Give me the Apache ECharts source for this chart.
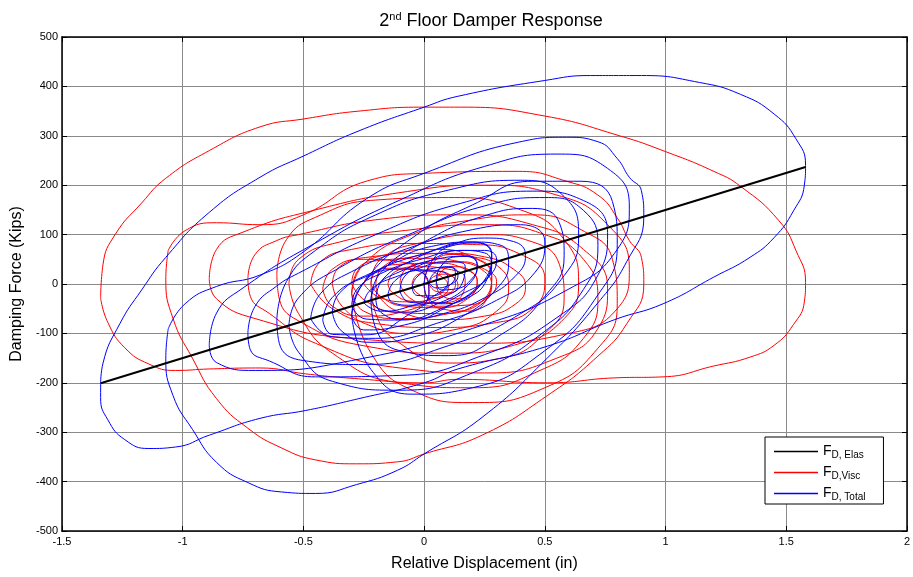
<!DOCTYPE html>
<html>
<head>
<meta charset="utf-8">
<title>2nd Floor Damper Response</title>
<script src="https://cdn.jsdelivr.net/npm/echarts@6/dist/echarts.min.js"></script>
<style>
  html, body { margin: 0; padding: 0; background: #ffffff; }
  #chart { width: 913px; height: 577px; }
</style>
</head>
<body>
<div id="chart"></div>
<script>
// Axis ranges and ticks
const xRange = [-1.5, 2];
const xStep = 0.5;
const yRange = [-500, 500];
const yStep = 100;

// Elastic damper force: straight line between the two displacement extremes
const elasticLine = [[-1.34, -201], [0, 0], [1.58, 237]];

// Viscous damper force loops (displacement in, force kips)
const viscousLoops = [
  [[-1.34,-29],[-1.33,40],[-1.28,100],[-1.17,164],[-1.07,214],[-0.89,270],[-0.68,318],[-0.5,334],[-0.27,350],[0,358],[0.15,358],[0.5,340],[0.81,300],[1.0,268],[1.2,228],[1.31,198],[1.47,128],[1.54,68],[1.58,3],[1.575,-36],[1.53,-82],[1.45,-124],[1.35,-148],[1.2,-166],[0.99,-188],[0.79,-190],[0.51,-200],[0.14,-193],[0,-200],[-0.27,-192],[-0.49,-182],[-0.68,-170],[-0.89,-172],[-1.03,-175],[-1.14,-162],[-1.24,-129],[-1.31,-78],[-1.34,-29]],
  [[-1.06,68],[-0.99,108],[-0.86,124],[-0.68,120],[-0.5,140],[-0.24,208],[0,224],[0.39,228],[0.59,208],[0.72,180],[0.8,134],[0.85,88],[0.9,54],[0.91,0],[0.84,-80],[0.72,-146],[0.51,-226],[0.24,-306],[0,-344],[-0.11,-360],[-0.28,-364],[-0.45,-356],[-0.59,-332],[-0.73,-292],[-0.86,-232],[-0.96,-150],[-1.04,-70],[-1.07,10],[-1.06,68]],
  [[-0.89,10],[-0.86,70],[-0.75,105],[-0.45,150],[-0.1,185],[0.25,200],[0.55,180],[0.76,120],[0.85,30],[0.8,-50],[0.6,-100],[0.2,-120],[-0.3,-110],[-0.7,-70],[-0.86,-30],[-0.89,10]],
  [[-0.73,10],[-0.7,60],[-0.61,88],[-0.52,100],[-0.2,130],[0.15,140],[0.45,120],[0.66,70],[0.76,-10],[0.72,-90],[0.55,-150],[0.25,-180],[-0.1,-170],[-0.45,-120],[-0.64,-60],[-0.72,-25],[-0.73,10]],
  [[-0.61,20],[-0.57,90],[-0.45,135],[-0.2,170],[0.1,175],[0.4,150],[0.58,90],[0.64,0],[0.58,-70],[0.4,-120],[0.1,-140],[-0.25,-125],[-0.5,-80],[-0.6,-30],[-0.61,20]],
  [[-0.56,0],[-0.52,50],[-0.35,85],[-0.05,110],[0.25,120],[0.5,100],[0.66,50],[0.72,-30],[0.66,-110],[0.48,-175],[0.2,-210],[-0.1,-200],[-0.38,-140],[-0.52,-60],[-0.56,0]],
  [[-0.47,0],[-0.43,45],[-0.3,70],[-0.05,82],[0.2,80],[0.4,60],[0.5,10],[0.46,-45],[0.3,-78],[0.05,-88],[-0.2,-80],[-0.38,-50],[-0.47,0]],
  [[-0.38,0],[-0.35,35],[-0.22,55],[0,62],[0.2,55],[0.32,30],[0.35,-10],[0.3,-55],[0.15,-90],[-0.05,-100],[-0.22,-85],[-0.34,-45],[-0.38,0]],
  [[-0.3,-20],[-0.25,40],[-0.05,100],[0.2,130],[0.45,140],[0.65,110],[0.78,50],[0.8,-40],[0.72,-130],[0.5,-210],[0.2,-240],[-0.05,-215],[-0.22,-140],[-0.3,-20]],
  [[-0.22,0],[-0.18,50],[0,85],[0.25,100],[0.45,85],[0.56,40],[0.58,-30],[0.5,-100],[0.32,-150],[0.1,-160],[-0.1,-120],[-0.2,-60],[-0.22,0]],
  [[-0.3,0],[-0.28,30],[-0.18,48],[0,52],[0.15,45],[0.25,25],[0.28,-5],[0.22,-40],[0.08,-60],[-0.1,-58],[-0.24,-35],[-0.3,0]],
  [[-0.22,0],[-0.2,25],[-0.1,40],[0.05,42],[0.17,30],[0.22,5],[0.18,-30],[0.06,-48],[-0.08,-45],[-0.18,-25],[-0.22,0]],
  [[-0.15,0],[-0.12,25],[-0.02,35],[0.1,30],[0.17,10],[0.16,-20],[0.07,-38],[-0.05,-35],[-0.13,-18],[-0.15,0]],
  [[-0.05,0],[-0.03,18],[0.04,26],[0.11,18],[0.13,0],[0.1,-20],[0.03,-28],[-0.03,-18],[-0.05,0]],
  [[0.02,0],[0.04,15],[0.09,20],[0.13,10],[0.14,-5],[0.1,-18],[0.05,-15],[0.02,0]],
  [[0,0],[0.03,40],[0.12,60],[0.22,50],[0.28,15],[0.26,-30],[0.18,-55],[0.07,-50],[0.01,-25],[0,0]],
  [[-0.42,-10],[-0.38,30],[-0.25,50],[-0.1,45],[0,20],[0.02,-20],[-0.08,-55],[-0.25,-65],[-0.38,-45],[-0.42,-10]],
  [[-0.3,-20],[-0.27,30],[-0.15,60],[0.05,70],[0.2,55],[0.28,20],[0.25,-30],[0.1,-60],[-0.1,-70],[-0.25,-55],[-0.3,-20]],
  [[-0.2,0],[-0.17,35],[-0.05,55],[0.1,62],[0.25,55],[0.37,30],[0.42,-5],[0.38,-40],[0.25,-65],[0.08,-72],[-0.08,-60],[-0.18,-30],[-0.2,0]],
  [[-0.1,0],[-0.08,28],[0.02,43],[0.15,45],[0.25,30],[0.3,5],[0.27,-25],[0.17,-43],[0.04,-45],[-0.06,-28],[-0.1,0]],
  [[0.05,0],[0.07,25],[0.13,35],[0.19,27],[0.22,5],[0.2,-18],[0.13,-30],[0.07,-22],[0.05,0]],
  [[-0.25,0],[-0.22,22],[-0.12,32],[0,28],[0.08,12],[0.1,-8],[0.05,-28],[-0.07,-36],[-0.18,-28],[-0.25,0]]
];

// Total damper force loops (elastic + viscous), read point by point
const totalLoops = [
  [[-1.34,-201],[-1.33,-160],[-1.26,-80],[-1.17,-12],[-1.07,54],[-0.89,145],[-0.68,216],[-0.5,259],[-0.27,310],[0,358],[0.14,380],[0.5,412],[0.69,422],[0.9,422],[1.14,408],[1.31,384],[1.45,344],[1.54,294],[1.58,240],[1.575,200],[1.53,148],[1.45,94],[1.35,54],[1.2,14],[0.99,-40],[0.79,-72],[0.51,-126],[0.14,-172],[0,-200],[-0.27,-232],[-0.49,-256],[-0.68,-272],[-0.89,-306],[-1.03,-330],[-1.14,-333],[-1.24,-315],[-1.31,-275],[-1.34,-230],[-1.34,-201]],
  [[-1.06,-91],[-0.99,-40],[-0.86,-5],[-0.68,18],[-0.5,65],[-0.24,172],[0,224],[0.39,287],[0.59,297],[0.72,288],[0.8,254],[0.85,216],[0.9,189],[0.91,137],[0.84,46],[0.72,-38],[0.51,-150],[0.24,-270],[0,-344],[-0.11,-377],[-0.28,-406],[-0.45,-424],[-0.59,-421],[-0.73,-402],[-0.86,-361],[-0.96,-294],[-1.04,-226],[-1.07,-150],[-1.06,-91]],
  [[-0.89,-124],[-0.86,-59],[-0.75,-8],[-0.45,83],[-0.1,170],[0.25,238],[0.55,263],[0.76,234],[0.85,158],[0.8,70],[0.6,-10],[0.2,-90],[-0.3,-155],[-0.7,-175],[-0.86,-159],[-0.89,-124]],
  [[-0.73,-100],[-0.7,-45],[-0.61,-4],[-0.52,22],[-0.2,100],[0.15,163],[0.45,188],[0.66,169],[0.76,104],[0.72,18],[0.55,-68],[0.25,-143],[-0.1,-185],[-0.45,-188],[-0.64,-156],[-0.72,-133],[-0.73,-100]],
  [[-0.61,-72],[-0.57,5],[-0.45,68],[-0.2,140],[0.1,190],[0.4,210],[0.58,177],[0.64,96],[0.58,17],[0.4,-60],[0.1,-125],[-0.25,-163],[-0.5,-155],[-0.6,-120],[-0.61,-72]],
  [[-0.56,-84],[-0.52,-28],[-0.35,33],[-0.05,103],[0.25,158],[0.5,175],[0.66,149],[0.72,78],[0.66,-11],[0.48,-103],[0.2,-180],[-0.1,-215],[-0.38,-197],[-0.52,-138],[-0.56,-84]],
  [[-0.47,-70],[-0.43,-20],[-0.3,25],[-0.05,75],[0.2,110],[0.4,120],[0.5,85],[0.46,24],[0.3,-33],[0.05,-80],[-0.2,-110],[-0.38,-107],[-0.47,-70]],
  [[-0.38,-57],[-0.35,-18],[-0.22,22],[0,62],[0.2,85],[0.32,78],[0.35,43],[0.3,-10],[0.15,-68],[-0.05,-108],[-0.22,-118],[-0.34,-96],[-0.38,-57]],
  [[-0.3,-65],[-0.25,3],[-0.05,93],[0.2,160],[0.45,208],[0.65,208],[0.78,167],[0.8,80],[0.72,-22],[0.5,-135],[0.2,-210],[-0.05,-223],[-0.22,-173],[-0.3,-65]],
  [[-0.22,-33],[-0.18,23],[0,85],[0.25,138],[0.45,153],[0.56,124],[0.58,57],[0.5,-25],[0.32,-102],[0.1,-145],[-0.1,-135],[-0.2,-90],[-0.22,-33]],
  [[-0.3,-45],[-0.28,-12],[-0.18,21],[0,52],[0.15,68],[0.25,63],[0.28,37],[0.22,-7],[0.08,-48],[-0.1,-73],[-0.24,-71],[-0.3,-45]],
  [[-0.22,-33],[-0.2,-5],[-0.1,25],[0.05,50],[0.17,56],[0.22,38],[0.18,-3],[0.06,-39],[-0.08,-57],[-0.18,-52],[-0.22,-33]],
  [[-0.15,-22],[-0.12,7],[-0.02,32],[0.1,45],[0.17,36],[0.16,4],[0.07,-28],[-0.05,-43],[-0.13,-38],[-0.15,-22]],
  [[-0.05,-8],[-0.03,14],[0.04,32],[0.11,35],[0.13,20],[0.1,-5],[0.03,-24],[-0.03,-23],[-0.05,-8]],
  [[0.02,3],[0.04,21],[0.09,34],[0.13,30],[0.14,16],[0.1,-3],[0.05,-8],[0.02,3]],
  [[0,0],[0.03,45],[0.12,78],[0.22,83],[0.28,57],[0.26,9],[0.18,-28],[0.07,-40],[0.01,-24],[0,0]],
  [[-0.42,-73],[-0.38,-27],[-0.25,13],[-0.1,30],[0,20],[0.02,-17],[-0.08,-67],[-0.25,-103],[-0.38,-102],[-0.42,-73]],
  [[-0.3,-65],[-0.27,-11],[-0.15,38],[0.05,78],[0.2,85],[0.28,62],[0.25,8],[0.1,-45],[-0.1,-85],[-0.25,-93],[-0.3,-65]],
  [[-0.2,-30],[-0.17,10],[-0.05,48],[0.1,77],[0.25,93],[0.37,86],[0.42,58],[0.38,17],[0.25,-28],[0.08,-60],[-0.08,-72],[-0.18,-57],[-0.2,-30]],
  [[-0.1,-15],[-0.08,16],[0.02,46],[0.15,68],[0.25,68],[0.3,50],[0.27,16],[0.17,-17],[0.04,-39],[-0.06,-37],[-0.1,-15]],
  [[0.05,8],[0.07,36],[0.13,55],[0.19,56],[0.22,38],[0.2,12],[0.13,-10],[0.07,-12],[0.05,8]],
  [[-0.25,-38],[-0.22,-11],[-0.12,14],[0,28],[0.08,24],[0.1,7],[0.05,-21],[-0.07,-47],[-0.18,-55],[-0.25,-38]]
];

// Legend names and their rich-text labels
const seriesNames = ['FD, Elas', 'FD,Visc', 'FD, Total'];
const legendLabels = {
  'FD, Elas': 'F{sub|D, Elas}',
  'FD,Visc': 'F{sub|D,Visc}',
  'FD, Total': 'F{sub|D, Total}'
};

const FONT = "'Liberation Sans', Arial, sans-serif";

function loopSeries(loops, name, color) {
  return loops.map(function (pts) {
    return {
      name: name,
      type: 'line',
      data: pts,
      smooth: 0.5,
      showSymbol: false,
      symbol: 'none',
      silent: true,
      lineStyle: { color: color, width: 1 },
      itemStyle: { color: color },
      emphasis: { disabled: true }
    };
  });
}

const series = []
  .concat(loopSeries(viscousLoops, seriesNames[1], '#ff0000'))
  .concat(loopSeries(totalLoops, seriesNames[2], '#0000ff'))
  .concat([{
    name: seriesNames[0],
    type: 'line',
    data: elasticLine,
    symbol: 'none',
    silent: true,
    z: 5,
    lineStyle: { color: '#000000', width: 2 },
    itemStyle: { color: '#000000' },
    emphasis: { disabled: true }
  }]);

const axisLineStyle = { color: '#000000', width: 1.5 };
const gridLineStyle = { color: '#8a8a8a', width: 1 };

const chart = echarts.init(document.getElementById('chart'), null, { renderer: 'canvas' });
chart.setOption({
  animation: false,
  backgroundColor: '#ffffff',
  textStyle: { fontFamily: FONT },
  title: {
    text: '2{sup|nd} Floor Damper Response',
    left: 486,
    textAlign: 'center',
    top: 6,
    textStyle: {
      fontFamily: FONT,
      fontSize: 18,
      fontWeight: 'normal',
      color: '#000',
      rich: {
        sup: { fontFamily: FONT, fontSize: 11, color: '#000', padding: [0, 0, 10, 0] }
      }
    }
  },
  grid: { left: 62, right: 2, top: 37, bottom: 40, containLabel: false },
  xAxis: [{
    type: 'value', min: xRange[0], max: xRange[1], interval: xStep, position: 'bottom',
    name: 'Relative Displacement (in)', nameLocation: 'middle', nameGap: 25,
    nameTextStyle: { fontFamily: FONT, fontSize: 16, color: '#000' },
    axisLine: { show: true, onZero: false, lineStyle: axisLineStyle },
    axisTick: { show: true, inside: true, length: 5, lineStyle: { color: '#000' } },
    axisLabel: { color: '#000', fontSize: 11, margin: 5, fontFamily: FONT },
    splitLine: { show: true, lineStyle: gridLineStyle }
  }, {
    type: 'value', min: xRange[0], max: xRange[1], interval: xStep, position: 'top',
    axisLine: { show: true, onZero: false, lineStyle: axisLineStyle },
    axisTick: { show: true, inside: true, length: 5, lineStyle: { color: '#000' } },
    axisLabel: { show: false },
    splitLine: { show: false }
  }],
  yAxis: [{
    type: 'value', min: yRange[0], max: yRange[1], interval: yStep, position: 'left',
    name: 'Damping Force (Kips)', nameLocation: 'middle', nameGap: 30, nameRotate: 90,
    nameTextStyle: { fontFamily: FONT, fontSize: 16, color: '#000' },
    axisLine: { show: true, onZero: false, lineStyle: axisLineStyle },
    axisTick: { show: true, inside: true, length: 5, lineStyle: { color: '#000' } },
    axisLabel: { color: '#000', fontSize: 11, margin: 4, fontFamily: FONT },
    splitLine: { show: true, lineStyle: gridLineStyle }
  }, {
    type: 'value', min: yRange[0], max: yRange[1], interval: yStep, position: 'right',
    axisLine: { show: true, onZero: false, lineStyle: axisLineStyle },
    axisTick: { show: true, inside: true, length: 5, lineStyle: { color: '#000' } },
    axisLabel: { show: false },
    splitLine: { show: false }
  }],
  legend: {
    data: seriesNames,
    orient: 'vertical',
    left: 765,
    top: 437,
    padding: [7, 18, 2, 9],
    itemGap: 5,
    itemWidth: 44,
    itemHeight: 1.5,
    icon: 'rect',
    backgroundColor: '#ffffff',
    borderColor: '#000000',
    borderWidth: 1,
    borderRadius: 0,
    selectedMode: false,
    formatter: function (name) { return legendLabels[name]; },
    textStyle: {
      fontFamily: FONT, fontSize: 14, color: '#000', lineHeight: 15,
      rich: {
        sub: { fontFamily: FONT, fontSize: 10, color: '#000', padding: [7, 0, 0, 0] }
      }
    }
  },
  series: series
});
</script>
</body>
</html>
